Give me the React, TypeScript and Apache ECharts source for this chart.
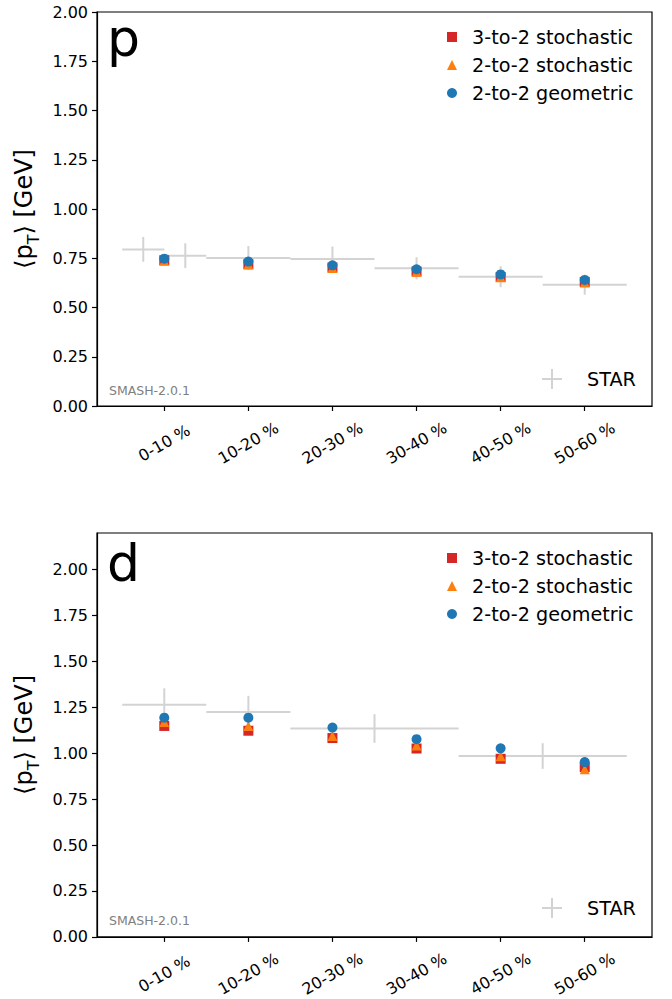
import React, { useEffect, useRef } from "react";
import * as echarts from "echarts";

// ---------- data ----------
const categories = ["0-10 %", "10-20 %", "20-30 %", "30-40 %", "40-50 %", "50-60 %"];
const categoryCenters = [5, 15, 25, 35, 45, 55];
const yTickValues = [0, 0.25, 0.5, 0.75, 1.0, 1.25, 1.5, 1.75, 2.0];

const modelNames = ["3-to-2 stochastic", "2-to-2 stochastic", "2-to-2 geometric"];

// proton panel
const pThreeToTwoStoch = [0.74, 0.72, 0.703, 0.683, 0.655, 0.63];
const pTwoToTwoStoch = [0.737, 0.718, 0.701, 0.681, 0.653, 0.627];
const pTwoToTwoGeom = [0.748, 0.733, 0.714, 0.694, 0.668, 0.64];
const pStarLow = [0, 5, 10, 20, 30, 40, 50];
const pStarHigh = [5, 10, 20, 30, 40, 50, 60];
const pStarMean = [0.795, 0.763, 0.751, 0.746, 0.699, 0.656, 0.616];
const pStarErr = [0.063, 0.063, 0.061, 0.063, 0.056, 0.053, 0.051];

// deuteron panel
const dThreeToTwoStoch = [1.149, 1.123, 1.083, 1.026, 0.97, 0.925];
const dTwoToTwoStoch = [1.17, 1.149, 1.094, 1.042, 0.984, 0.913];
const dTwoToTwoGeom = [1.194, 1.194, 1.14, 1.077, 1.027, 0.952];
const dStarLow = [0, 10, 20, 40];
const dStarHigh = [10, 20, 40, 60];
const dStarMean = [1.265, 1.225, 1.135, 0.985];
const dStarErr = [0.089, 0.088, 0.078, 0.07];

// ---------- styles ----------
const FONT = "DejaVu Sans";
const modelColors = ["#d62728", "#ff7f0e", "#1f77b4"];
const modelSymbols = ["rect", "triangle", "circle"];
const STAR_COLOR = "#d3d3d3";
const PLUS_ICON = "path://M9,0H11V9H20V11H11V20H9V11H0V9H9Z";

const panels = [
  {
    letter: "p",
    models: [pThreeToTwoStoch, pTwoToTwoStoch, pTwoToTwoGeom],
    star: { lo: pStarLow, hi: pStarHigh, mean: pStarMean, err: pStarErr },
    grid: { top: 12, height: 394 },
    yMax: 2.0,
    letterY: 38,
    smashY: 390,
    legendTop: 27,
    starLegendTop: 369,
  },
  {
    letter: "d",
    models: [dThreeToTwoStoch, dTwoToTwoStoch, dTwoToTwoGeom],
    star: { lo: dStarLow, hi: dStarHigh, mean: dStarMean, err: dStarErr },
    grid: { top: 533, height: 409 },
    yMax: 2.2,
    letterY: 563,
    smashY: 920,
    legendTop: 548,
    starLegendTop: 898,
  },
];

function buildOption() {
  const grids: any[] = [];
  const xAxes: any[] = [];
  const yAxes: any[] = [];
  const series: any[] = [];
  const legends: any[] = [];
  const graphics: any[] = [];

  panels.forEach((pn, i) => {
    grids.push({
      left: 97,
      top: pn.grid.top,
      width: 555,
      height: pn.grid.height,
      show: true,
      borderColor: "#000",
      borderWidth: 1.2,
    });
    xAxes.push({
      gridIndex: i,
      type: "value",
      min: -3,
      max: 63,
      axisLine: { show: true, onZero: false, lineStyle: { color: "#000", width: 1.2 } },
      axisTick: {
        show: true,
        customValues: categoryCenters,
        length: 5,
        lineStyle: { color: "#000", width: 1.2 },
      },
      axisLabel: {
        customValues: categoryCenters,
        formatter: (v: number) => {
          const k = categoryCenters.indexOf(Math.round(v));
          return k >= 0 ? categories[k] : "";
        },
        rotate: 30,
        align: "center",
        verticalAlign: "middle",
        margin: 37,
        fontSize: 16,
        fontFamily: FONT,
        color: "#000",
      },
      splitLine: { show: false },
    });
    yAxes.push({
      gridIndex: i,
      type: "value",
      min: 0,
      max: pn.yMax,
      name: "{b|⟨p}{sub|T}{b|⟩ [GeV]}",
      nameLocation: "middle",
      nameGap: 54,
      nameTextStyle: {
        fontFamily: FONT,
        fontSize: 24,
        color: "#000",
        rich: {
          b: { fontFamily: FONT, fontSize: 24, lineHeight: 34, color: "#000", verticalAlign: "middle" },
          sub: { fontFamily: FONT, fontSize: 16, lineHeight: 16, color: "#000", verticalAlign: "bottom" },
        },
      },
      axisLine: { show: true, onZero: false, lineStyle: { color: "#000", width: 1.2 } },
      axisTick: {
        show: true,
        customValues: yTickValues,
        length: 5,
        lineStyle: { color: "#000", width: 1.2 },
      },
      axisLabel: {
        customValues: yTickValues,
        formatter: (v: number) => v.toFixed(2),
        margin: 9,
        fontSize: 16,
        fontFamily: FONT,
        color: "#000",
      },
      splitLine: { show: false },
    });

    // STAR error crosses
    const starRows = pn.star.lo.map((lo, k) => [lo, pn.star.hi[k], pn.star.mean[k], pn.star.err[k]]);
    series.push({
      type: "custom",
      name: "STAR",
      xAxisIndex: i,
      yAxisIndex: i,
      data: starRows,
      encode: { x: [0, 1], y: [2] },
      itemStyle: { color: STAR_COLOR },
      z: 1,
      renderItem: (params: any, api: any) => {
        const lo = api.value(0);
        const hi = api.value(1);
        const m = api.value(2);
        const e = api.value(3);
        const xc = (lo + hi) / 2;
        const a = api.coord([lo, m]);
        const b = api.coord([hi, m]);
        const c = api.coord([xc, m - e]);
        const d = api.coord([xc, m + e]);
        const st = { stroke: STAR_COLOR, lineWidth: 2 };
        return {
          type: "group",
          children: [
            { type: "line", shape: { x1: a[0], y1: a[1], x2: b[0], y2: b[1] }, style: st },
            { type: "line", shape: { x1: c[0], y1: c[1], x2: d[0], y2: d[1] }, style: st },
          ],
        };
      },
    });

    pn.models.forEach((vals, k) => {
      series.push({
        type: "scatter",
        name: modelNames[k],
        xAxisIndex: i,
        yAxisIndex: i,
        symbol: modelSymbols[k],
        symbolSize: 10,
        itemStyle: { color: modelColors[k], opacity: 1 },
        z: 3,
        data: vals.map((v, j) => [categoryCenters[j], v]),
      });
    });

    legends.push({
      data: modelNames.map((n, k) => ({ name: n, icon: modelSymbols[k] })),
      orient: "vertical",
      left: 447,
      top: pn.legendTop,
      padding: 0,
      itemWidth: 10,
      itemHeight: 10,
      itemGap: 8,
      selectedMode: false,
      textStyle: { fontSize: 19.2, lineHeight: 20, fontFamily: FONT, color: "#000", padding: [0, 0, 0, 10] },
    });
    legends.push({
      data: [{ name: "STAR", icon: PLUS_ICON }],
      orient: "vertical",
      left: 542,
      top: pn.starLegendTop,
      padding: 0,
      itemWidth: 20,
      itemHeight: 20,
      selectedMode: false,
      textStyle: { fontSize: 19.2, lineHeight: 20, fontFamily: FONT, color: "#000", padding: [0, 0, 0, 20] },
    });

    graphics.push({
      type: "text",
      x: 107,
      y: pn.letterY,
      style: {
        text: pn.letter,
        fontSize: 52,
        fontFamily: FONT,
        fill: "#000",
        align: "left",
        verticalAlign: "middle",
      },
    });
    graphics.push({
      type: "text",
      x: 109,
      y: pn.smashY,
      style: {
        text: "SMASH-2.0.1",
        fontSize: 12.5,
        fontFamily: FONT,
        fill: "#808080",
        align: "left",
        verticalAlign: "middle",
      },
    });
  });

  return {
    animation: false,
    backgroundColor: "#fff",
    textStyle: { fontFamily: FONT },
    grid: grids,
    xAxis: xAxes,
    yAxis: yAxes,
    legend: legends,
    series,
    graphic: graphics,
  };
}

export default function App() {
  const ref = useRef<HTMLDivElement>(null);
  useEffect(() => {
    if (!ref.current) return;
    const chart = echarts.init(ref.current, undefined, { renderer: "svg" });
    chart.setOption(buildOption() as any);
    return () => chart.dispose();
  }, []);
  return (
    <div
      ref={ref}
      style={{ position: "absolute", left: 0, top: 0, width: 672, height: 999, background: "#fff" }}
    />
  );
}
